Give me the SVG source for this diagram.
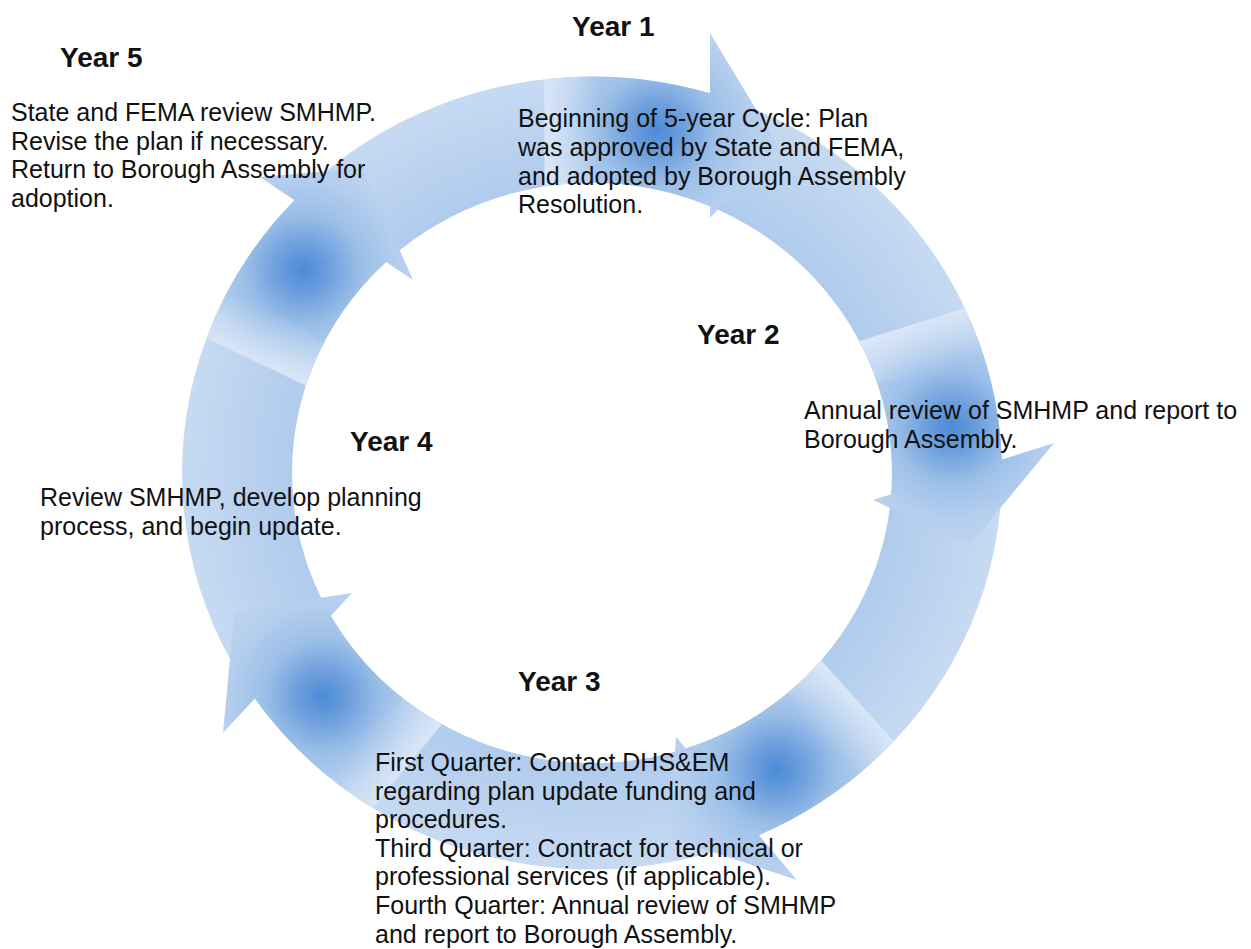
<svg xmlns="http://www.w3.org/2000/svg" width="1251" height="949" viewBox="0 0 1251 949">
<style>
.t{font-family:"Liberation Sans",Arial,sans-serif;font-size:28px;font-weight:bold;fill:#111}
.b{font-family:"Liberation Sans",Arial,sans-serif;font-size:25px;fill:#111}
.arrow{stroke:none}
.hl{stroke:none}
</style>
<defs>
<radialGradient id="ringG" gradientUnits="userSpaceOnUse" cx="0" cy="0" r="410">
<stop offset="0.73" stop-color="#b0cbed"/>
<stop offset="1" stop-color="#c6daf2"/>
</radialGradient>
<radialGradient id="g1" gradientUnits="userSpaceOnUse" cx="65" cy="-355" r="130">
<stop offset="0" stop-color="#4a8bd6"/><stop offset="0.2" stop-color="#6d9fdc"/><stop offset="0.45" stop-color="#9cbfe8"/><stop offset="0.75" stop-color="#b6cfee"/><stop offset="1" stop-color="#bed5f0"/>
</radialGradient>
<radialGradient id="g2" gradientUnits="userSpaceOnUse" cx="360" cy="-48" r="130">
<stop offset="0" stop-color="#4a8bd6"/><stop offset="0.2" stop-color="#6d9fdc"/><stop offset="0.45" stop-color="#9cbfe8"/><stop offset="0.75" stop-color="#b6cfee"/><stop offset="1" stop-color="#bed5f0"/>
</radialGradient>
<radialGradient id="g3" gradientUnits="userSpaceOnUse" cx="185" cy="307" r="130">
<stop offset="0" stop-color="#4a8bd6"/><stop offset="0.2" stop-color="#6d9fdc"/><stop offset="0.45" stop-color="#9cbfe8"/><stop offset="0.75" stop-color="#b6cfee"/><stop offset="1" stop-color="#bed5f0"/>
</radialGradient>
<radialGradient id="g4" gradientUnits="userSpaceOnUse" cx="-269" cy="231" r="130">
<stop offset="0" stop-color="#4a8bd6"/><stop offset="0.2" stop-color="#6d9fdc"/><stop offset="0.45" stop-color="#9cbfe8"/><stop offset="0.75" stop-color="#b6cfee"/><stop offset="1" stop-color="#bed5f0"/>
</radialGradient>
<radialGradient id="g5" gradientUnits="userSpaceOnUse" cx="-289" cy="-210" r="130">
<stop offset="0" stop-color="#4a8bd6"/><stop offset="0.2" stop-color="#6d9fdc"/><stop offset="0.45" stop-color="#9cbfe8"/><stop offset="0.75" stop-color="#b6cfee"/><stop offset="1" stop-color="#bed5f0"/>
</radialGradient>
<linearGradient id="h1" gradientUnits="userSpaceOnUse" x1="-47.6" y1="-351.7" x2="8" y2="-354.8">
<stop offset="0" stop-color="#ffffff" stop-opacity="0.45"/><stop offset="1" stop-color="#ffffff" stop-opacity="0"/>
</linearGradient>
<linearGradient id="h2" gradientUnits="userSpaceOnUse" x1="320" y1="-153.5" x2="340.1" y2="-101.5">
<stop offset="0" stop-color="#ffffff" stop-opacity="0.45"/><stop offset="1" stop-color="#ffffff" stop-opacity="0"/>
</linearGradient>
<linearGradient id="h3" gradientUnits="userSpaceOnUse" x1="265.5" y1="235.6" x2="225.4" y2="274.2">
<stop offset="0" stop-color="#ffffff" stop-opacity="0.45"/><stop offset="1" stop-color="#ffffff" stop-opacity="0"/>
</linearGradient>
<linearGradient id="h4" gradientUnits="userSpaceOnUse" x1="-184.9" y1="303" x2="-230" y2="270.3">
<stop offset="0" stop-color="#ffffff" stop-opacity="0.45"/><stop offset="1" stop-color="#ffffff" stop-opacity="0"/>
</linearGradient>
<linearGradient id="h5" gradientUnits="userSpaceOnUse" x1="-335.8" y1="-114.9" x2="-313.8" y2="-166.1">
<stop offset="0" stop-color="#ffffff" stop-opacity="0.45"/><stop offset="1" stop-color="#ffffff" stop-opacity="0"/>
</linearGradient>
</defs>
<rect width="1251" height="949" fill="#ffffff"/>
<g id="connectors" transform="translate(592,473) scale(1,0.967)">
<path id="ring" fill="url(#ringG)" fill-rule="evenodd" d="M 0,-410 A 410 410 0 1 1 0,410 A 410 410 0 1 1 0,-410 Z M 0,-300 A 300 300 0 1 0 0,300 A 300 300 0 1 0 0,-300 Z"/>
<path id="arrow1" class="arrow" fill="url(#g1)" d="M -47.8,-407.2 A 410 410 0 0 1 118,-392.7 L 118,-455 L 187.2,-336.4 L 118,-264 L 118,-275.8 A 300 300 0 0 0 -47.5,-296.2 Z"/>
<path class="hl" fill="url(#h1)" d="M -47.8,-407.2 A 410 410 0 0 1 16.5,-409.7 L -0.5,-300 A 300 300 0 0 0 -47.5,-296.2 Z"/>
<path id="arrow2" class="arrow" fill="url(#g2)" d="M 372.8,-170.7 A 410 410 0 0 1 409.9,-14.0 L 462,-31 L 377.7,74.8 L 281,27.9 L 299.3,21.9 A 300 300 0 0 0 267.3,-136.2 Z"/>
<path class="hl" fill="url(#h2)" d="M 372.8,-170.7 A 410 410 0 0 1 394.9,-110.2 L 285.3,-92.7 A 300 300 0 0 0 267.3,-136.2 Z"/>
<path id="arrow3" class="arrow" fill="url(#g3)" d="M 301.8,277.5 A 410 410 0 0 1 167.0,374.5 L 205,420.9 L 77.4,377.1 L 84,273 L 93.8,285.0 A 300 300 0 0 0 229.1,193.7 Z"/>
<path class="hl" fill="url(#h3)" d="M 301.8,277.5 A 410 410 0 0 1 254.7,321.3 L 196.0,227.1 A 300 300 0 0 0 229.1,193.7 Z"/>
<path id="arrow4" class="arrow" fill="url(#g4)" d="M -219.7,346.2 A 410 410 0 0 1 -337.2,233.2 L -369,268.9 L -357.5,143.0 L -240,124.1 L -261.3,148.0 A 300 300 0 0 0 -150,259.8 Z"/>
<path class="hl" fill="url(#h4)" d="M -219.7,346.2 A 410 410 0 0 1 -271.1,307.5 L -188.8,233.1 A 300 300 0 0 0 -150,259.8 Z"/>
<path id="arrow5" class="arrow" fill="url(#g5)" d="M -385.5,-139.6 A 410 410 0 0 1 -297.6,-282.1 L -332,-306 L -229.2,-315.5 L -179,-199.6 L -205.9,-218.3 A 300 300 0 0 0 -286.1,-90.2 Z"/>
<path class="hl" fill="url(#h5)" d="M -385.5,-139.6 A 410 410 0 0 1 -359.0,-198.2 L -268.5,-133.9 A 300 300 0 0 0 -286.1,-90.2 Z"/>
</g>
<g id="year1">
<text class="t" x="572" y="36">Year 1</text>
<text class="b" x="518" y="127">Beginning of 5-year Cycle: Plan</text>
<text class="b" x="518" y="156">was approved by State and FEMA,</text>
<text class="b" x="518" y="185">and adopted by Borough Assembly</text>
<text class="b" x="518" y="213">Resolution.</text>
</g>
<g id="year2">
<text class="t" x="697" y="344">Year 2</text>
<text class="b" x="804" y="419">Annual review of SMHMP and report to</text>
<text class="b" x="804" y="448">Borough Assembly.</text>
</g>
<g id="year3">
<text class="t" x="518" y="691">Year 3</text>
<text class="b" x="375" y="771">First Quarter: Contact DHS&amp;EM</text>
<text class="b" x="375" y="800">regarding plan update funding and</text>
<text class="b" x="375" y="828">procedures.</text>
<text class="b" x="375" y="857">Third Quarter: Contract for technical or</text>
<text class="b" x="375" y="885">professional services (if applicable).</text>
<text class="b" x="375" y="914">Fourth Quarter: Annual review of SMHMP</text>
<text class="b" x="375" y="943">and report to Borough Assembly.</text>
</g>
<g id="year4">
<text class="t" x="350" y="451">Year 4</text>
<text class="b" x="40" y="506">Review SMHMP, develop planning</text>
<text class="b" x="40" y="535">process, and begin update.</text>
</g>
<g id="year5">
<text class="t" x="60" y="67">Year 5</text>
<text class="b" x="11" y="121">State and FEMA review SMHMP.</text>
<text class="b" x="11" y="150">Revise the plan if necessary.</text>
<text class="b" x="11" y="178">Return to Borough Assembly for</text>
<text class="b" x="11" y="207">adoption.</text>
</g>
</svg>
